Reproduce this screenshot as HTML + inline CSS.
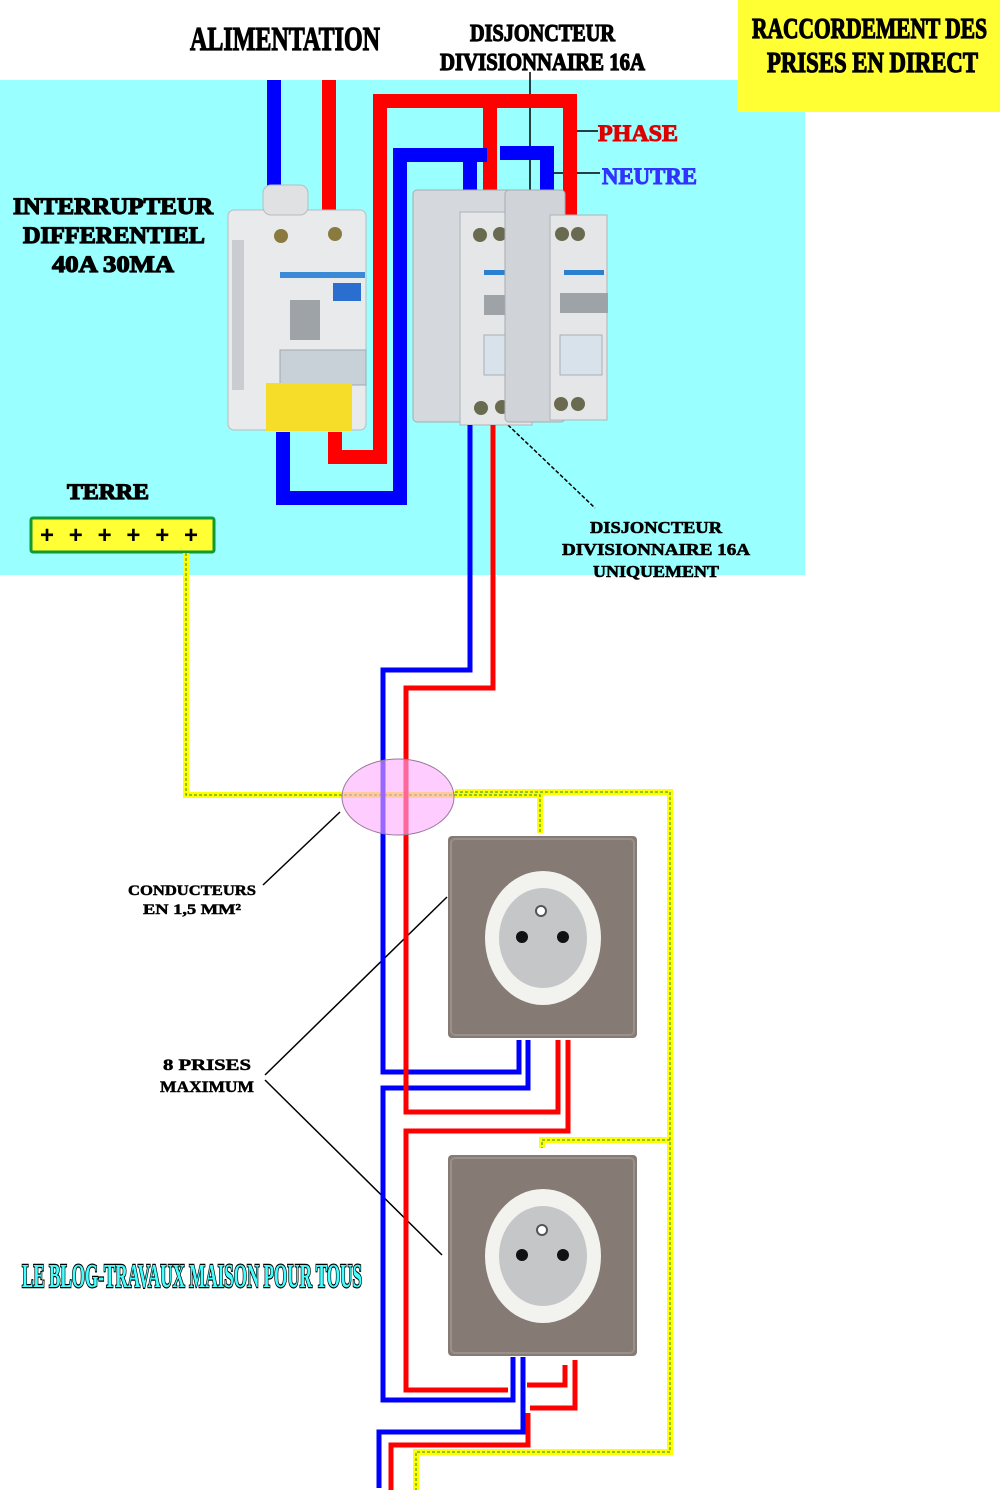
<!DOCTYPE html>
<html><head><meta charset="utf-8"><style>
html,body{margin:0;padding:0;background:#fff;}
svg{display:block;}
.t{font-family:"Liberation Serif",serif;font-weight:bold;}
.h{stroke:#000;stroke-width:1.2;}
</style></head><body>
<svg width="1000" height="1500" viewBox="0 0 1000 1500" xmlns="http://www.w3.org/2000/svg">
<rect width="1000" height="1500" fill="#fff"/>
<rect x="0" y="80" width="805" height="495" fill="#99ffff"/>
<rect x="738" y="0" width="262" height="112" fill="#ffff33"/>

<g class="t" fill="#000">
<text class="h" x="190" y="50" font-size="34" textLength="190" lengthAdjust="spacingAndGlyphs">ALIMENTATION</text>
<text class="h" x="470" y="41" font-size="24" textLength="145" lengthAdjust="spacingAndGlyphs">DISJONCTEUR</text>
<text class="h" x="440" y="70" font-size="24" textLength="205" lengthAdjust="spacingAndGlyphs">DIVISIONNAIRE 16A</text>
<text class="h" x="752" y="38" font-size="28" textLength="235" lengthAdjust="spacingAndGlyphs">RACCORDEMENT DES</text>
<text class="h" x="767" y="72" font-size="28" textLength="211" lengthAdjust="spacingAndGlyphs">PRISES EN DIRECT</text>
<text class="h" x="13" y="214" font-size="23" textLength="200" lengthAdjust="spacingAndGlyphs">INTERRUPTEUR</text>
<text class="h" x="23" y="243" font-size="23" textLength="182" lengthAdjust="spacingAndGlyphs">DIFFERENTIEL</text>
<text class="h" x="52" y="272" font-size="23" textLength="122" lengthAdjust="spacingAndGlyphs">40A 30MA</text>
<text class="h" x="67" y="499" font-size="22" textLength="82" lengthAdjust="spacingAndGlyphs">TERRE</text>
<text x="590" y="533" font-size="17" stroke="#000" stroke-width="0.6" textLength="132" lengthAdjust="spacingAndGlyphs">DISJONCTEUR</text>
<text x="562" y="555" font-size="17" stroke="#000" stroke-width="0.6" textLength="188" lengthAdjust="spacingAndGlyphs">DIVISIONNAIRE 16A</text>
<text x="593" y="577" font-size="17" stroke="#000" stroke-width="0.6" textLength="126" lengthAdjust="spacingAndGlyphs">UNIQUEMENT</text>
<text x="128" y="895" font-size="15" stroke="#000" stroke-width="0.5" textLength="128" lengthAdjust="spacingAndGlyphs">CONDUCTEURS</text>
<text x="143" y="914" font-size="15" stroke="#000" stroke-width="0.5" textLength="98" lengthAdjust="spacingAndGlyphs">EN 1,5 MM²</text>
<text x="163" y="1070" font-size="16" stroke="#000" stroke-width="0.5" textLength="88" lengthAdjust="spacingAndGlyphs">8 PRISES</text>
<text x="160" y="1092" font-size="16" stroke="#000" stroke-width="0.5" textLength="94" lengthAdjust="spacingAndGlyphs">MAXIMUM</text>
</g>
<text class="t" x="598" y="141" font-size="23" fill="#dd0000" stroke="#dd0000" stroke-width="1" textLength="80" lengthAdjust="spacingAndGlyphs">PHASE</text>
<text class="t" x="602" y="184" font-size="23" fill="#3333ff" stroke="#3333ff" stroke-width="1" textLength="95" lengthAdjust="spacingAndGlyphs">NEUTRE</text>
<text class="t" x="22" y="1287" font-size="34" fill="#44ffff" stroke="#000" stroke-width="2.5" paint-order="stroke" textLength="340" lengthAdjust="spacingAndGlyphs">LE BLOG-TRAVAUX MAISON POUR TOUS</text>

<g stroke="#000" stroke-width="1.5" fill="none">
<line x1="530" y1="72" x2="530" y2="190"/>
<line x1="577" y1="131" x2="598" y2="131"/>
<line x1="552" y1="173" x2="600" y2="173"/>
<line x1="508" y1="425" x2="595" y2="508" stroke-dasharray="4 2"/>
<line x1="263" y1="885" x2="340" y2="812"/>
<line x1="265" y1="1075" x2="447" y2="897"/>
<line x1="265" y1="1080" x2="442" y2="1255"/>
</g>

<g fill="none" stroke-width="14" stroke-linejoin="miter">
<path d="M274 80 V188" stroke="#0000ff"/>
<path d="M329 80 V213" stroke="#ff0000"/>
<path d="M335 432 V457 H380 V101 H570 V222" stroke="#ff0000"/>
<path d="M490 101 V212" stroke="#ff0000"/>
<path d="M283 432 V498 H400 V155 H487" stroke="#0000ff"/>
<path d="M470 155 V207" stroke="#0000ff"/>
<path d="M500 153 H547 V220" stroke="#0000ff"/>
</g>

<g>
<rect x="228" y="210" width="138" height="220" rx="6" fill="#e8eaec" stroke="#b8bcc0"/>
<rect x="263" y="185" width="45" height="30" rx="8" fill="#dfe1e3" stroke="#b8bcc0"/>
<circle cx="281" cy="236" r="7" fill="#8a7a40"/><circle cx="335" cy="234" r="7" fill="#8a7a40"/>
<rect x="280" y="272" width="85" height="6" fill="#3b8ad8"/>
<rect x="333" y="283" width="28" height="18" fill="#2a6fd0"/>
<rect x="290" y="300" width="30" height="40" fill="#9ea3a8"/>
<rect x="280" y="350" width="86" height="35" fill="#c8d0d8" stroke="#a0a8b0"/>
<rect x="266" y="383" width="86" height="48" fill="#f5dd2a"/>
<rect x="232" y="240" width="12" height="150" fill="#c9ccd0"/>
</g>
<g>
<rect x="413" y="190" width="100" height="232" rx="4" fill="#d5d8dc" stroke="#a8acb0"/>
<rect x="460" y="212" width="72" height="213" fill="#e4e6e8" stroke="#b0b4b8"/>
<circle cx="480" cy="235" r="7" fill="#6a6a50"/><circle cx="500" cy="234" r="7" fill="#6a6a50"/>
<rect x="484" y="270" width="45" height="5" fill="#2a7fd0"/>
<rect x="484" y="295" width="52" height="20" fill="#9ea3a8"/>
<rect x="484" y="335" width="46" height="40" fill="#d8e2ea" stroke="#a8b0b8"/>
<circle cx="481" cy="408" r="7" fill="#6a6a50"/><circle cx="502" cy="407" r="7" fill="#6a6a50"/>
<rect x="505" y="190" width="60" height="232" rx="4" fill="#d0d3d7" stroke="#a8acb0"/>
<rect x="550" y="215" width="57" height="205" fill="#e4e6e8" stroke="#b0b4b8"/>
<circle cx="562" cy="234" r="7" fill="#6a6a50"/><circle cx="578" cy="234" r="7" fill="#6a6a50"/>
<rect x="564" y="270" width="40" height="5" fill="#2a7fd0"/>
<rect x="560" y="293" width="48" height="20" fill="#9ea3a8"/>
<rect x="560" y="335" width="42" height="40" fill="#d8e2ea" stroke="#a8b0b8"/>
<circle cx="561" cy="404" r="7" fill="#6a6a50"/><circle cx="578" cy="404" r="7" fill="#6a6a50"/>
</g>

<rect x="31" y="518" width="183" height="34" rx="2" fill="#ffff33" stroke="#119933" stroke-width="3"/>
<text x="40" y="543" font-family="Liberation Sans,sans-serif" font-weight="bold" font-size="24" fill="#000" textLength="158" lengthAdjust="spacing">++++++</text>

<g fill="none">
<path d="M186 553 V795 H540 V833 M455 792 H540 M540 792 H670 V1452 H416 V1490 M670 1140 H542 V1148" stroke="#ffff00" stroke-width="6"/>
<path d="M186 553 V795 H540 V833 M455 792 H540 M540 792 H670 V1452 H416 V1490 M670 1140 H542 V1148" stroke="#228833" stroke-width="1" stroke-dasharray="3 2"/>
</g>

<g fill="none" stroke-width="5">
<path d="M470 425 V670 H383 V1072 H519 V1040" stroke="#0000ff"/>
<path d="M528 1040 V1088 H383 V1400 H513 V1357" stroke="#0000ff"/>
<path d="M523 1357 V1432 H379 V1488" stroke="#0000ff"/>
<path d="M493 425 V688 H406 V1112 H558 V1040" stroke="#ff0000"/>
<path d="M568 1040 V1131 H406 V1390 H508" stroke="#ff0000"/>
<path d="M527 1385 H565 V1365" stroke="#ff0000"/>
<path d="M530 1408 H575 V1360" stroke="#ff0000"/>
<path d="M528 1413 V1445 H391 V1490" stroke="#ff0000"/>
</g>

<ellipse cx="398" cy="797" rx="56" ry="38" fill="#ffaaff" fill-opacity="0.6" stroke="#997799" stroke-width="1"/>

<g>
<rect x="448" y="836" width="189" height="202" rx="4" fill="#867a74"/>
<rect x="451" y="839" width="183" height="196" rx="4" fill="none" stroke="#9a8f8a" stroke-width="2"/>
<ellipse cx="543" cy="938" rx="58" ry="67" fill="#f2f2ee"/>
<ellipse cx="543" cy="938" rx="44" ry="50" fill="#c4c6c8"/>
<circle cx="541" cy="911" r="5" fill="#fff" stroke="#555" stroke-width="2"/>
<circle cx="522" cy="937" r="6" fill="#111"/><circle cx="563" cy="937" r="6" fill="#111"/>
</g>
<g>
<rect x="448" y="1155" width="189" height="201" rx="4" fill="#867a74"/>
<rect x="451" y="1158" width="183" height="195" rx="4" fill="none" stroke="#9a8f8a" stroke-width="2"/>
<ellipse cx="543" cy="1256" rx="58" ry="67" fill="#f2f2ee"/>
<ellipse cx="543" cy="1256" rx="44" ry="50" fill="#c4c6c8"/>
<circle cx="542" cy="1230" r="5" fill="#fff" stroke="#555" stroke-width="2"/>
<circle cx="522" cy="1255" r="6" fill="#111"/><circle cx="563" cy="1255" r="6" fill="#111"/>
</g>
</svg>
</body></html>
